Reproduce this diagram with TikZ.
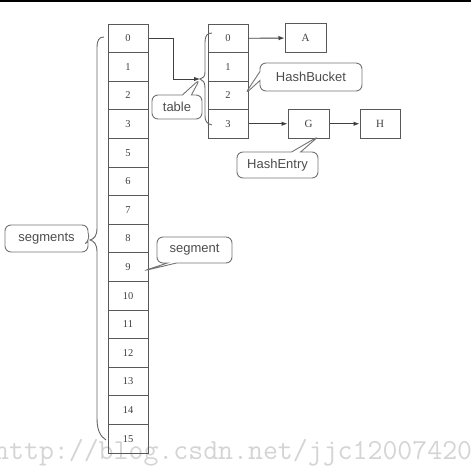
\documentclass[tikz,border=0pt]{standalone}
\usepackage{fontspec}
\setmainfont{Liberation Serif}
\setsansfont{Liberation Sans}
\usetikzlibrary{shapes.callouts, arrows.meta}

\begin{document}
\begin{tikzpicture}[x=1pt, y=-1pt,
    cell/.style={draw=black!65, line width=1pt, minimum width=40pt, minimum height=28.6pt,
        inner sep=0pt, font=\fontsize{10.5}{10.5}\selectfont, text=black!75},
    item/.style={cell, minimum width=41pt, minimum height=28.5pt, font=\fontsize{11}{11}\selectfont},
    note/.style={rectangle callout, rounded corners=6pt, draw=black!55, line width=0.9pt,
        inner sep=0pt, callout pointer width=9pt, font=\sffamily\fontsize{13}{13}\selectfont, text=black!70},
    link/.style={draw=black!75, line width=0.9pt, -{Latex[length=6pt,width=4.5pt]}},
    curly/.style={draw=black!60, line width=0.9pt}]
    \useasboundingbox (0,0) rectangle (471,466);
    % watermark
    \node[anchor=base west, inner sep=0pt, text=black!17, font=\ttfamily\fontsize{29}{29}\selectfont]
        (mark) at (-6,459) {http://blog.csdn.net/jjc12007420};
    \draw[line width=2pt, black] (0,0.5) -- (471,0.5);

    % segments array
    \foreach \lab [count=\i from 0] in {0,1,2,3,5,6,7,8,9,10,11,12,13,14,15}
      \node[cell] (seg\i) at (128,{38.3+28.6*\i}) {\lab};

    % table array
    \foreach \i in {0,...,3}
      \node[cell, minimum height=28.5pt] (tab\i) at (228,{38.25+28.5*\i}) {\i};

    % entries
    \node[item] (a) at (305.5,38) {A};
    \node[item] (g) at (308.5,123.75) {G};
    \node[item, minimum width=40pt] (h) at (380,123.75) {H};

    \draw[link] (tab0.east) -- (a);
    \draw[link] (tab3.east) -- (g);
    \draw[link] (g) -- (h);

    % braces
    \draw[curly] (104,37) .. controls (99,37) and (97,40) .. (97,48) -- (97,228)
        .. controls (97,236) and (94,239) .. (90,240)
        .. controls (94,241) and (97,244) .. (97,252) -- (97,418)
        .. controls (97,430) and (100,436) .. (106,440);
    \draw[curly] (212,33) .. controls (207,33) and (205,36) .. (205,42) -- (205,72)
        .. controls (205,77) and (203,78) .. (200,79)
        .. controls (203,80) and (205,82) .. (205,88) -- (205,116)
        .. controls (205,121) and (207,124) .. (212,125);

    \coordinate (tabtip) at (200,79);
    \coordinate (segtip) at (90,240);
    \coordinate (cellpt) at (143,271);
    \coordinate (bucketpt) at (245,94);
    \coordinate (entrypt) at (319,136);

    \draw[link] (seg0.east) -- ++(25,0) |- (tabtip);

    % callouts
    \node[note, minimum width=50pt, minimum height=24pt, callout absolute pointer={(tabtip)}]
        (tablenote) at (177,107) {table};
    \node[note, minimum width=102pt, minimum height=28pt, callout absolute pointer={(bucketpt)}]
        (bucketnote) at (311,77) {HashBucket};
    \node[note, minimum width=81pt, minimum height=26pt, callout absolute pointer={(entrypt)}]
        (entrynote) at (277.5,165) {HashEntry};
    \node[note, minimum width=83pt, minimum height=27pt, callout absolute pointer={(segtip)}]
        (segsnote) at (46.5,238.5) {segments};
    \node[note, minimum width=75pt, minimum height=26pt, callout absolute pointer={(cellpt)}]
        (segnote) at (194.5,250) {segment};
\end{tikzpicture}
\end{document}
